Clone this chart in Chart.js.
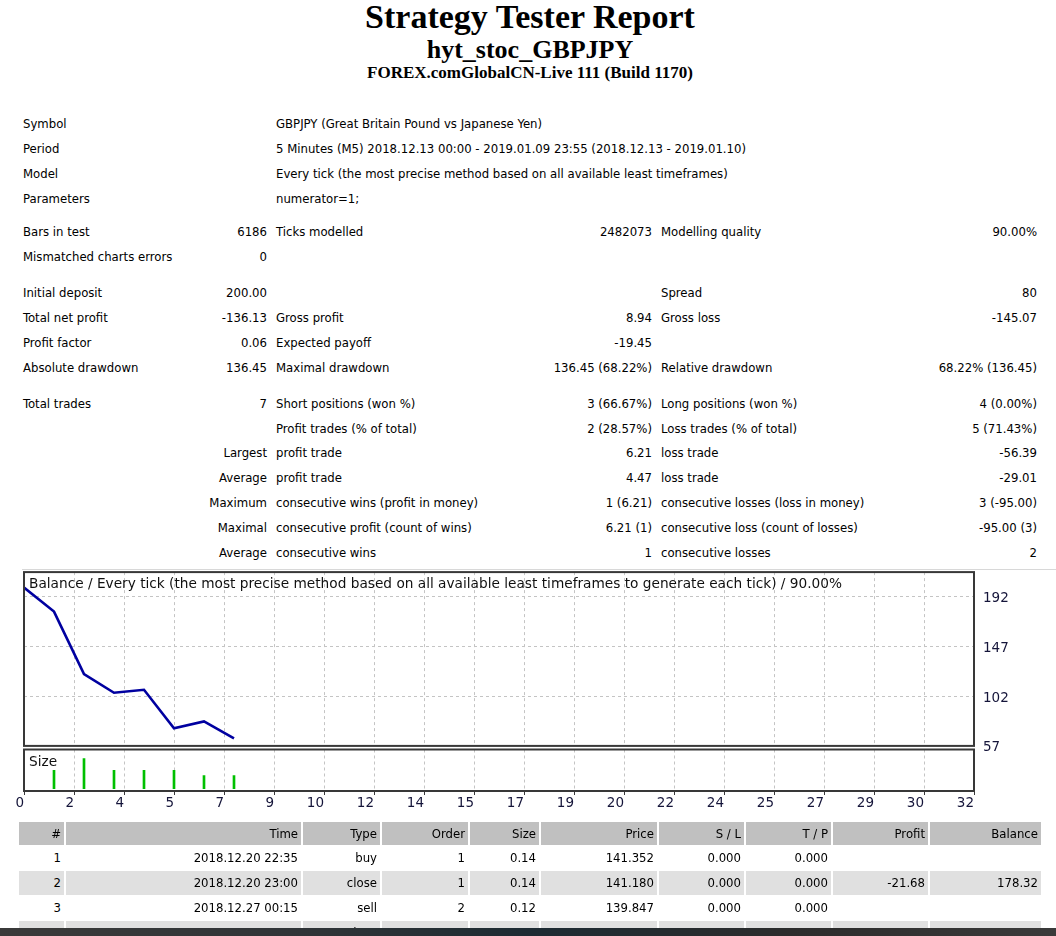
<!DOCTYPE html>
<html><head><meta charset="utf-8">
<script src="https://cdn.jsdelivr.net/npm/chart.js@4/dist/chart.umd.min.js"></script>
<style>
html,body{margin:0;padding:0;background:#fff;width:1056px;height:936px;overflow:hidden;}
body{position:relative;font-family:"DejaVu Sans Condensed","DejaVu Sans",sans-serif;font-stretch:condensed;font-size:13px;color:#000;}
.hd{position:absolute;left:0;width:1060px;text-align:center;font-family:"Liberation Serif","Times New Roman",serif;font-weight:bold;white-space:nowrap;}
.c{position:absolute;white-space:nowrap;line-height:16px;height:16px;}
.tc{position:absolute;white-space:nowrap;text-align:right;box-sizing:border-box;padding-right:3px;line-height:24px;height:24px;font-size:13px;}
.ov{position:absolute;white-space:nowrap;font-family:"DejaVu Sans",sans-serif;font-stretch:normal;font-size:13.7px;color:#101010;}
canvas{position:absolute;left:0;}
</style>
</head><body>
<div class="hd" style="top:0px;font-size:34px;line-height:34px;">Strategy Tester Report</div>
<div class="hd" style="top:36px;font-size:26px;line-height:28px;">hyt_stoc_GBPJPY</div>
<div class="hd" style="top:63px;font-size:17px;line-height:20px;">FOREX.comGlobalCN-Live 111 (Build 1170)</div>
<div id="stats"></div>
<div style="position:absolute;left:22px;top:569px;width:1034px;height:1px;background:#d8d8d8;"></div>
<canvas id="bal" style="top:555px;" width="1056" height="208"></canvas>
<canvas id="siz" style="top:745px;" width="1056" height="75"></canvas>
<div class="ov" style="left:29px;top:575px;">Balance / Every tick (the most precise method based on all available least timeframes to generate each tick) / 90.00%</div>
<div class="ov" style="left:29px;top:753px;">Size</div>
<div id="trades"></div>
<div style="position:absolute;left:0;top:928px;width:1056px;height:8px;background:linear-gradient(to right,#3a3a3a,#2f3437 30%,#1d2b33 50%,#2c2c2c 75%,#3a3a3a);"></div>
<script>
// ---- chart data ----
const X_TICK_LABELS = ['0','2','4','5','7','9','10','12','14','15','17','19','20','22','24','25','27','29','30','32'];
const Y_TICKS = [57, 102, 147, 192];
const TRADE_NO = [0, 1, 2, 3, 4, 5, 6, 7];
const BALANCE = [200.00, 178.32, 121.93, 105.00, 107.73, 72.90, 79.10, 63.87];
const SIZE_TRADE = [1, 2, 3, 4, 5, 6, 7];
const SIZE = [0.14, 0.23, 0.14, 0.14, 0.14, 0.10, 0.10];
const X_GRID_STEP = 5 / 3;
const X_MAX = X_GRID_STEP * (X_TICK_LABELS.length - 1);

// ---- stats text ----
const STAT_ROWS = [
 [125,'Symbol','', 'GBPJPY (Great Britain Pound vs Japanese Yen)','','',''],
 [150,'Period','', '5 Minutes (M5) 2018.12.13 00:00 - 2019.01.09 23:55 (2018.12.13 - 2019.01.10)','','',''],
 [175,'Model','', 'Every tick (the most precise method based on all available least timeframes)','','',''],
 [200,'Parameters','', 'numerator=1;','','',''],
 [233,'Bars in test','6186','Ticks modelled','2482073','Modelling quality','90.00%'],
 [258,'Mismatched charts errors','0','','','',''],
 [294,'Initial deposit','200.00','','','Spread','80'],
 [319,'Total net profit','-136.13','Gross profit','8.94','Gross loss','-145.07'],
 [344,'Profit factor','0.06','Expected payoff','-19.45','',''],
 [369,'Absolute drawdown','136.45','Maximal drawdown','136.45 (68.22%)','Relative drawdown','68.22% (136.45)'],
 [405,'Total trades','7','Short positions (won %)','3 (66.67%)','Long positions (won %)','4 (0.00%)'],
 [430,'','','Profit trades (% of total)','2 (28.57%)','Loss trades (% of total)','5 (71.43%)'],
 [454,'','Largest','profit trade','6.21','loss trade','-56.39'],
 [479,'','Average','profit trade','4.47','loss trade','-29.01'],
 [504,'','Maximum','consecutive wins (profit in money)','1 (6.21)','consecutive losses (loss in money)','3 (-95.00)'],
 [529,'','Maximal','consecutive profit (count of wins)','6.21 (1)','consecutive loss (count of losses)','-95.00 (3)'],
 [554,'','Average','consecutive wins','1','consecutive losses','2']
];
const TRADE_HEAD = ['#','Time','Type','Order','Size','Price','S / L','T / P','Profit','Balance'];
const TRADE_ROWS = [
 ['1','2018.12.20 22:35','buy','1','0.14','141.352','0.000','0.000','',''],
 ['2','2018.12.20 23:00','close','1','0.14','141.180','0.000','0.000','-21.68','178.32'],
 ['3','2018.12.27 00:15','sell','2','0.12','139.847','0.000','0.000','',''],
 ['4','','close','2','0.12','','','','','']
];

(function(){
  const st = document.getElementById('stats');
  const cols = [[23,'l'],[267,'r'],[276,'l'],[652,'r'],[661,'l'],[1037,'r']];
  let h='';
  STAT_ROWS.forEach(r=>{
    for(let i=0;i<6;i++){
      const t=r[i+1]; if(!t) continue;
      const [x,a]=cols[i];
      if(a==='l') h+=`<div class="c" style="left:${x}px;top:${r[0]-9}px;">${t}</div>`;
      else h+=`<div class="c" style="right:${1056-x}px;top:${r[0]-9}px;text-align:right;">${t}</div>`;
    }
  });
  st.innerHTML=h;
  const tb=document.getElementById('trades');
  const cx=[[19,45],[66,235],[303,77],[382,86],[470,69],[541,116],[659,85],[746,85],[833,95],[930,111]];
  let g='';
  const rowTop=[822,846,871,896,921];
  const addRow=(cells,top,bg,h2)=>{
    cells.forEach((t,i)=>{
      g+=`<div class="tc" style="left:${cx[i][0]}px;width:${cx[i][1]}px;top:${top}px;height:${h2}px;line-height:${h2}px;background:${bg};">${t}</div>`;
    });
  };
  addRow(TRADE_HEAD,rowTop[0],'#c0c0c0',23);
  TRADE_ROWS.forEach((r,i)=>addRow(r,rowTop[i+1],i%2===1?'#e0e0e0':'#ffffff',24));
  tb.innerHTML=g;
})();

const framePlugin = {
  id:'frame',
  afterDraw(chart){
    const a=chart.chartArea, ctx=chart.ctx;
    ctx.save(); ctx.strokeStyle='#383838'; ctx.lineWidth=2;
    ctx.strokeRect(a.left,a.top,a.right-a.left,a.bottom-a.top);
    ctx.restore();
  }
};
const xTicksFromLabels = s => { s.ticks = X_TICK_LABELS.map((l,k)=>({value:k*X_GRID_STEP})); };
Chart.defaults.font.family = '"DejaVu Sans", sans-serif';

new Chart(document.getElementById('bal'),{
  type:'line',
  data:{datasets:[{data:TRADE_NO.map((t,i)=>({x:t,y:BALANCE[i]})),borderColor:'#0000a0',borderWidth:2.6,pointRadius:0,tension:0,fill:false}]},
  options:{
    responsive:false, animation:false, devicePixelRatio:1,
    layout:{padding:{left:24,top:0,bottom:0,right:0}},
    plugins:{legend:{display:false},tooltip:{enabled:false}},
    scales:{
      x:{
        type:'linear', min:0, max:X_MAX,
        afterBuildTicks:xTicksFromLabels,
        ticks:{display:false}, border:{display:false,dash:[3,3]},
        grid:{color:'#c4c4c4',drawTicks:false,tickLength:0},
        afterFit(s){ s.height=0; }
      },
      y:{
        type:'linear', position:'right', min:57, max:214,
        afterBuildTicks(s){ s.ticks = Y_TICKS.map(v=>({value:v})); },
        afterFit(s){ s.width=82; },
        border:{display:false,dash:[3,3]},
        grid:{color:'#c4c4c4',drawTicks:false},
        ticks:{padding:9,labelOffset:2,color:'#15153a',font:{size:13.5}}
      }
    }
  },
  plugins:[framePlugin]
});

new Chart(document.getElementById('siz'),{
  type:'bar',
  data:{datasets:[{data:SIZE_TRADE.map((t,i)=>({x:t,y:SIZE[i]})),backgroundColor:'#00c000',barThickness:2}]},
  options:{
    responsive:false, animation:false, devicePixelRatio:1,
    layout:{padding:{left:24,top:4.5,bottom:5,right:82}},
    plugins:{legend:{display:false},tooltip:{enabled:false}},
    scales:{
      x:{
        type:'linear', min:0, max:X_MAX, offset:false,
        afterBuildTicks:xTicksFromLabels,
        border:{display:false,dash:[3,3]},
        grid:{color:'#c4c4c4',drawTicks:true,tickLength:4,tickColor:'#383838',tickWidth:1,tickBorderDash:[],offset:false},
        ticks:{align:'end',padding:0,color:'#15153a',font:{size:13.5},maxRotation:0,autoSkip:false,
          callback:(v,i)=>X_TICK_LABELS[i]},
        afterFit(s){ s.height=24; }
      },
      y:{type:'linear',display:false,min:-0.017,max:0.298}
    }
  },
  plugins:[framePlugin]
});
</script>
</body></html>
